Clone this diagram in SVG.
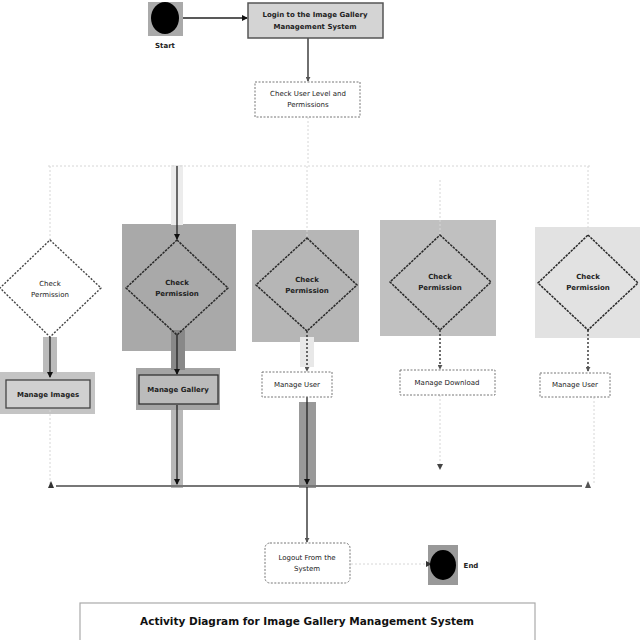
<svg xmlns="http://www.w3.org/2000/svg" width="640" height="640" viewBox="0 0 640 640">
  <defs>
    <marker id="arr" viewBox="0 0 6 6" refX="5" refY="3" markerWidth="6" markerHeight="6" orient="auto" markerUnits="userSpaceOnUse">
      <path d="M0,0 L6,3 L0,6 z" fill="#111"/>
    </marker>
    <marker id="arrL" viewBox="0 0 6 6" refX="5" refY="3" markerWidth="5" markerHeight="5" orient="auto" markerUnits="userSpaceOnUse">
      <path d="M0,0 L6,3 L0,6 z" fill="#555"/>
    </marker>
  </defs>
  <style>
    text { font-family: "DejaVu Sans", "Liberation Sans", sans-serif; fill: #222; text-anchor: middle; }
    .lbl { font-size: 7px; }
    .bold { font-size: 7px; font-weight: bold; }
    .title { font-size: 10.5px; font-weight: bold; fill: #111; }
    .dia { fill: none; stroke: #2a2a2a; stroke-width: 1.5; stroke-dasharray: 2.5 1; }
    .box { fill: #fff; stroke: #777; stroke-width: 1; stroke-dasharray: 2 1.5; }
    .conn { stroke: #222; stroke-width: 1.3; fill: none; }
    .faint { stroke: #d6d6d6; stroke-width: 1; fill: none; stroke-dasharray: 2 2; }
  </style>

  <rect width="640" height="640" fill="#fff"/>

  <!-- shaded highlight panels -->
  <g id="highlights">
    <rect x="148" y="2" width="35" height="34" fill="#aaa"/>
    <rect x="122" y="224" width="114" height="127" fill="#a9a9a9"/>
    <rect x="252" y="230" width="107" height="112" fill="#b6b6b6"/>
    <rect x="380" y="220" width="116" height="116" fill="#c0c0c0"/>
    <rect x="535" y="227" width="105" height="111" fill="#e2e2e2"/>
    <rect x="0" y="372" width="95" height="42" fill="#c4c4c4"/>
    <rect x="136" y="368" width="84" height="42" fill="#a4a4a4"/>
    <rect x="171" y="330" width="14" height="40" fill="#888"/>
    <rect x="43" y="337" width="14" height="37" fill="#bbb"/>
    <rect x="171" y="410" width="12" height="78" fill="#b8b8b8"/>
    <rect x="299" y="402" width="17" height="86" fill="#999"/>
    <rect x="300" y="337" width="14" height="30" fill="#e8e8e8"/>
    <rect x="171" y="165" width="12" height="60" fill="#ececec"/>
    <rect x="428" y="545" width="30" height="40" fill="#999"/>
  </g>

  <!-- connectors -->
  <g id="connectors">
    <line class="conn" x1="183" y1="18" x2="247" y2="18" stroke="#999" marker-end="url(#arr)"/>
    <line class="conn" x1="308" y1="38" x2="308" y2="81" stroke="#888" marker-end="url(#arrL)"/>
    <line class="faint" x1="308" y1="117" x2="308" y2="165"/>
    <line class="faint" x1="48" y1="166" x2="592" y2="166"/>
    <line class="faint" x1="50" y1="166" x2="50" y2="239"/>
    <line class="conn" x1="177" y1="166" x2="177" y2="239" marker-end="url(#arr)"/>
    <line class="faint" x1="307" y1="166" x2="307" y2="237"/>
    <line class="faint" x1="440" y1="180" x2="440" y2="234"/>
    <line class="faint" x1="588" y1="166" x2="588" y2="234"/>

    <line class="conn" x1="50" y1="337" x2="50" y2="377" marker-end="url(#arr)"/>
    <line class="conn" x1="177" y1="335" x2="177" y2="374" marker-end="url(#arr)"/>
    <line class="conn" x1="307" y1="331" x2="307" y2="371" stroke="#999" stroke-dasharray="2 2" marker-end="url(#arrL)"/>
    <line class="conn" x1="440" y1="330" x2="440" y2="369" stroke="#999" stroke-dasharray="2 2" marker-end="url(#arrL)"/>
    <line class="conn" x1="588" y1="330" x2="588" y2="371" stroke="#999" stroke-dasharray="2 2" marker-end="url(#arrL)"/>

    <line class="faint" x1="50" y1="410" x2="50" y2="484"/>
    <line class="conn" x1="177" y1="405" x2="177" y2="484" stroke="#777" marker-end="url(#arr)"/>
    <line class="conn" x1="307" y1="397" x2="307" y2="484" marker-end="url(#arr)"/>
    <line class="faint" x1="440" y1="395" x2="440" y2="468"/>
    <path d="M437,464 L440,470 L443,464 z" fill="#444"/>
    <line class="faint" x1="594" y1="397" x2="594" y2="484"/>

    <!-- join bar -->
    <line x1="56" y1="486" x2="582" y2="486" stroke="#777" stroke-width="2"/>
    <path d="M48,488 L51,481 L54,488 z" fill="#333"/>
    <path d="M585,488 L588,481 L591,488 z" fill="#555"/>
    <line class="conn" x1="307" y1="487" x2="307" y2="542" stroke="#bbb" marker-end="url(#arrL)"/>
    <line class="faint" x1="351" y1="564" x2="430" y2="564"/>
    <path d="M426,561 L432,564 L426,567 z" fill="#333"/>
  </g>

  <g id="start">
    <ellipse cx="165" cy="18" rx="14" ry="16" fill="#000"/>
    <text class="bold" x="165" y="48">Start</text>
  </g>

  <g id="login">
    <rect x="248" y="3" width="135" height="35" fill="#d4d4d4" stroke="#555" stroke-width="1.5"/>
    <text class="bold" x="315" y="17">Login to the Image Gallery</text>
    <text class="bold" x="315" y="29">Management System</text>
  </g>

  <g id="check-level">
    <rect class="box" x="255" y="82" width="105" height="35" stroke="#aaa"/>
    <text class="lbl" x="308" y="96">Check User Level and</text>
    <text class="lbl" x="308" y="107">Permissions</text>
  </g>

  <g id="check1">
    <polygon points="50,240 101,288 50,337 0,288" fill="#fff" stroke="#444" stroke-width="1.4" stroke-dasharray="2 1.5"/>
    <text class="lbl" x="50" y="286">Check</text>
    <text class="lbl" x="50" y="297">Permission</text>
  </g>
  <g id="check2">
    <polygon class="dia" points="177,240 228,288 177,335 126,288"/>
    <text class="bold" x="177" y="285">Check</text>
    <text class="bold" x="177" y="296">Permission</text>
  </g>
  <g id="check3">
    <polygon class="dia" points="307,238 357,285 307,331 256,285"/>
    <text class="bold" x="307" y="282">Check</text>
    <text class="bold" x="307" y="293">Permission</text>
  </g>
  <g id="check4">
    <polygon class="dia" points="440,235 491,282 440,330 390,282"/>
    <text class="bold" x="440" y="279">Check</text>
    <text class="bold" x="440" y="290">Permission</text>
  </g>
  <g id="check5">
    <polygon class="dia" points="588,235 638,283 588,330 538,283" stroke="#666"/>
    <text class="bold" x="588" y="279">Check</text>
    <text class="bold" x="588" y="290">Permission</text>
  </g>

  <g id="manage-images">
    <rect x="6" y="380" width="84" height="28" fill="#d0d0d0" stroke="#444" stroke-width="1.3"/>
    <text class="bold" x="48" y="397">Manage Images</text>
  </g>
  <g id="manage-gallery">
    <rect x="139" y="375" width="79" height="29" fill="#bbb" stroke="#333" stroke-width="1.3"/>
    <text class="bold" x="178" y="392">Manage Gallery</text>
  </g>
  <g id="manage-user-1">
    <rect class="box" x="262" y="372" width="70" height="25"/>
    <text class="lbl" x="297" y="387">Manage User</text>
  </g>
  <g id="manage-download">
    <rect class="box" x="400" y="370" width="95" height="25"/>
    <text class="lbl" x="447" y="385">Manage Download</text>
  </g>
  <g id="manage-user-2">
    <rect class="box" x="540" y="373" width="70" height="24"/>
    <text class="lbl" x="575" y="387">Manage User</text>
  </g>

  <g id="logout">
    <rect x="265" y="543" width="85" height="40" rx="5" fill="#fff" stroke="#777" stroke-dasharray="2 1.5"/>
    <text class="lbl" x="307" y="560">Logout From the</text>
    <text class="lbl" x="307" y="571">System</text>
  </g>

  <g id="end">
    <ellipse cx="443" cy="565" rx="13" ry="15" fill="#000"/>
    <text class="bold" x="471" y="568">End</text>
  </g>

  <g id="caption">
    <rect x="80" y="603" width="455" height="40" fill="#fff" stroke="#aaa" stroke-width="1.2"/>
    <text class="title" x="307" y="625">Activity Diagram for Image Gallery Management System</text>
  </g>
</svg>
